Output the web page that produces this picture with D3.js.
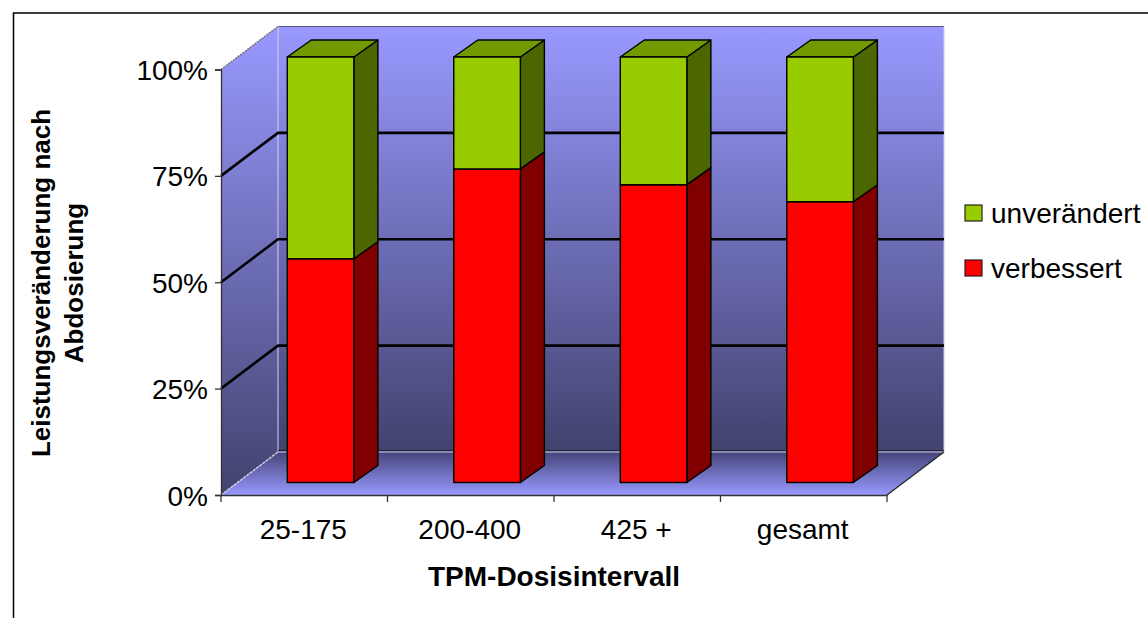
<!DOCTYPE html>
<html><head><meta charset="utf-8">
<script src="https://cdn.jsdelivr.net/npm/d3@7"></script>
<style>html,body{margin:0;padding:0;background:#fff}svg{display:block}text{font-family:"Liberation Sans",Arial,sans-serif;fill:#000}</style>
</head><body><svg id="c" width="1148" height="618"></svg>
<script>
const categories = ["25-175", "200-400", "425 +", "gesamt"];
const verbessert = [52.6, 73.7, 70, 66];
const unveraendert = [47.4, 26.3, 30, 34];
const yTickValues = [0, 25, 50, 75, 100];
const seriesNames = ["unverändert", "verbessert"];

const svg = d3.select("#c");
const x = d3.scaleBand().domain(categories).range([220.8, 886.8]).paddingInner(0.6).paddingOuter(0.3);
const xOuter = d3.scaleBand().domain(categories).range([221, 887]);
const y = d3.scaleLinear().domain([0, 100]).range([495, 69.5]);
const DX = 57, DY = -43;          // wall depth
const fx = 0.29;                  // front of bars as a fraction of depth
const BW = 24, BH = -17;          // bar depth
const pts = a => a.map(p => p.join(",")).join(" ");
const X0 = 221, X1 = 887, Y0 = y(0), Y1 = y(100);

const defs = svg.append("defs");
function grad(id, stops) {
  const g = defs.append("linearGradient").attr("id", id).attr("x1", 0).attr("y1", 0).attr("x2", 0).attr("y2", 1);
  stops.forEach(s => g.append("stop").attr("offset", s[0]).attr("stop-color", s[1]));
}
grad("wall", [[0, "#9999ff"], [1, "#42426e"]]);
grad("floor", [[0, "#45457a"], [1, "#9999ff"]]);

// frame
svg.append("path").attr("d", "M13.5,618V13H1148").attr("fill", "none").attr("stroke", "#000").attr("stroke-width", 1.5);

// walls
svg.append("polygon").attr("points", pts([[X0 + DX, Y1 + DY], [X1 + DX, Y1 + DY], [X1 + DX, Y0 + DY], [X0 + DX, Y0 + DY]])).attr("fill", "url(#wall)");
svg.append("polygon").attr("points", pts([[X0, Y1], [X0 + DX, Y1 + DY], [X0 + DX, Y0 + DY], [X0, Y0]])).attr("fill", "url(#wall)");
svg.append("polygon").attr("points", pts([[X0, Y0], [X0 + DX, Y0 + DY], [X1 + DX, Y0 + DY], [X1, Y0]])).attr("fill", "url(#floor)");
svg.append("line").attr("x1", X0 + DX).attr("x2", X1 + DX).attr("y1", Y1 + DY).attr("y2", Y1 + DY).attr("stroke", "#555577").attr("stroke-width", 1);
svg.append("path").attr("d", `M${X0 + DX},${Y1 + DY}V${Y0 + DY}H${X1 + DX}V${Y1 + DY}`).attr("fill", "none").attr("stroke", "#d0d0f4").attr("stroke-width", 1);
svg.append("line").attr("x1", X0 + DX).attr("x2", X1 + DX).attr("y1", Y0 + DY - 1.5).attr("y2", Y0 + DY - 1.5).attr("stroke", "#222233").attr("stroke-width", 1);
svg.append("line").attr("x1", X0).attr("y1", Y1).attr("x2", X0 + DX).attr("y2", Y1 + DY).attr("stroke", "#777").attr("stroke-width", 1.5).attr("stroke-dasharray", "2 1");
svg.append("line").attr("x1", X0).attr("y1", Y0).attr("x2", X0 + DX).attr("y2", Y0 + DY).attr("stroke", "#ccd").attr("stroke-width", 1.5).attr("stroke-dasharray", "3 1");
svg.append("line").attr("x1", X1).attr("y1", Y0).attr("x2", X1 + DX).attr("y2", Y0 + DY).attr("stroke", "#222").attr("stroke-width", 1.2);

// gridlines
const inner = yTickValues.filter(v => v > 0 && v < 100);
svg.selectAll(".g").data(inner).join("path").attr("fill", "none").attr("stroke", "#000").attr("stroke-width", 2.6)
  .attr("d", v => `M${X0},${y(v)}L${X0 + DX},${y(v) + DY}H${X1 + DX}`);

// axes
const yAxis = d3.axisLeft(y).tickValues(yTickValues).tickFormat(d => d + "%").tickSize(6).tickPadding(7);
const yg = svg.append("g").attr("transform", `translate(${X0},0)`).call(yAxis);
yg.selectAll("text").attr("font-size", 28).attr("dy", "0.36em");
yg.selectAll("path,line").attr("stroke", "#333").attr("stroke-width", 1.3);
const xAxis = d3.axisBottom(xOuter).tickValues([]).tickSizeOuter(0);
const xg = svg.append("g").attr("transform", `translate(0,${Y0})`).call(xAxis);
xg.selectAll("path").attr("stroke", "#333").attr("stroke-width", 1.3);
svg.selectAll(".xt").data(categories.concat(["end"])).join("line")
  .attr("x1", (d, i) => i < 4 ? xOuter(d) : X1).attr("x2", (d, i) => i < 4 ? xOuter(d) : X1)
  .attr("y1", Y0).attr("y2", Y0 + 7).attr("stroke", "#333").attr("stroke-width", 1.3);
svg.selectAll(".xl").data(categories).join("text")
  .attr("x", d => xOuter(d) + xOuter.bandwidth() / 2 - 1).attr("y", 539).attr("text-anchor", "middle").attr("font-size", 28).text(d => d);

// bars
const colors = {
  v: ["#ff0000", "#800000"],
  u: ["#99cc00", "#4c6600", "#739900"]
};
function box(x0, w, vLow, vHigh, c, top) {
  const ox = DX * fx, oy = DY * fx;
  const l = x0 + ox, r = l + w, b = y(vLow) + oy, t = y(vHigh) + oy;
  const g = svg.append("g").attr("stroke", "#000").attr("stroke-width", 1.4).attr("stroke-linejoin", "round");
  g.append("polygon").attr("points", pts([[r, t], [r + BW, t + BH], [r + BW, b + BH], [r, b]])).attr("fill", c[1]);
  if (top) g.append("polygon").attr("points", pts([[l, t], [l + BW, t + BH], [r + BW, t + BH], [r, t]])).attr("fill", c[2]);
  g.append("rect").attr("x", l).attr("y", t).attr("width", w).attr("height", b - t).attr("fill", c[0]);
}
categories.forEach((cat, i) => {
  box(x(cat), x.bandwidth(), 0, verbessert[i], colors.v, false);
  box(x(cat), x.bandwidth(), verbessert[i], verbessert[i] + unveraendert[i], colors.u, true);
});

// titles
svg.append("text").attr("x", 554).attr("y", 586).attr("text-anchor", "middle").attr("font-size", 28).attr("font-weight", "bold").text("TPM-Dosisintervall");
const yt = svg.append("text").attr("transform", "translate(0,283) rotate(-90)").attr("text-anchor", "middle").attr("font-size", 26).attr("font-weight", "bold");
yt.append("tspan").attr("x", 0).attr("y", 50).text("Leistungsveränderung nach");
yt.append("tspan").attr("x", 0).attr("y", 83).text("Abdosierung");

// legend
const ly = d3.scalePoint().domain(seriesNames).range([213, 268]);
const lc = d3.scaleOrdinal().domain(seriesNames).range([colors.u[0], colors.v[0]]);
svg.selectAll(".ls").data(seriesNames).join("rect").attr("x", 965).attr("y", d => ly(d) - 8).attr("width", 17).attr("height", 16)
  .attr("fill", d => lc(d)).attr("stroke", "#222").attr("stroke-width", 1.2);
svg.selectAll(".lt").data(seriesNames).join("text").attr("x", 991).attr("y", d => ly(d) + 10).attr("font-size", 28).text(d => d);
</script></body></html>
